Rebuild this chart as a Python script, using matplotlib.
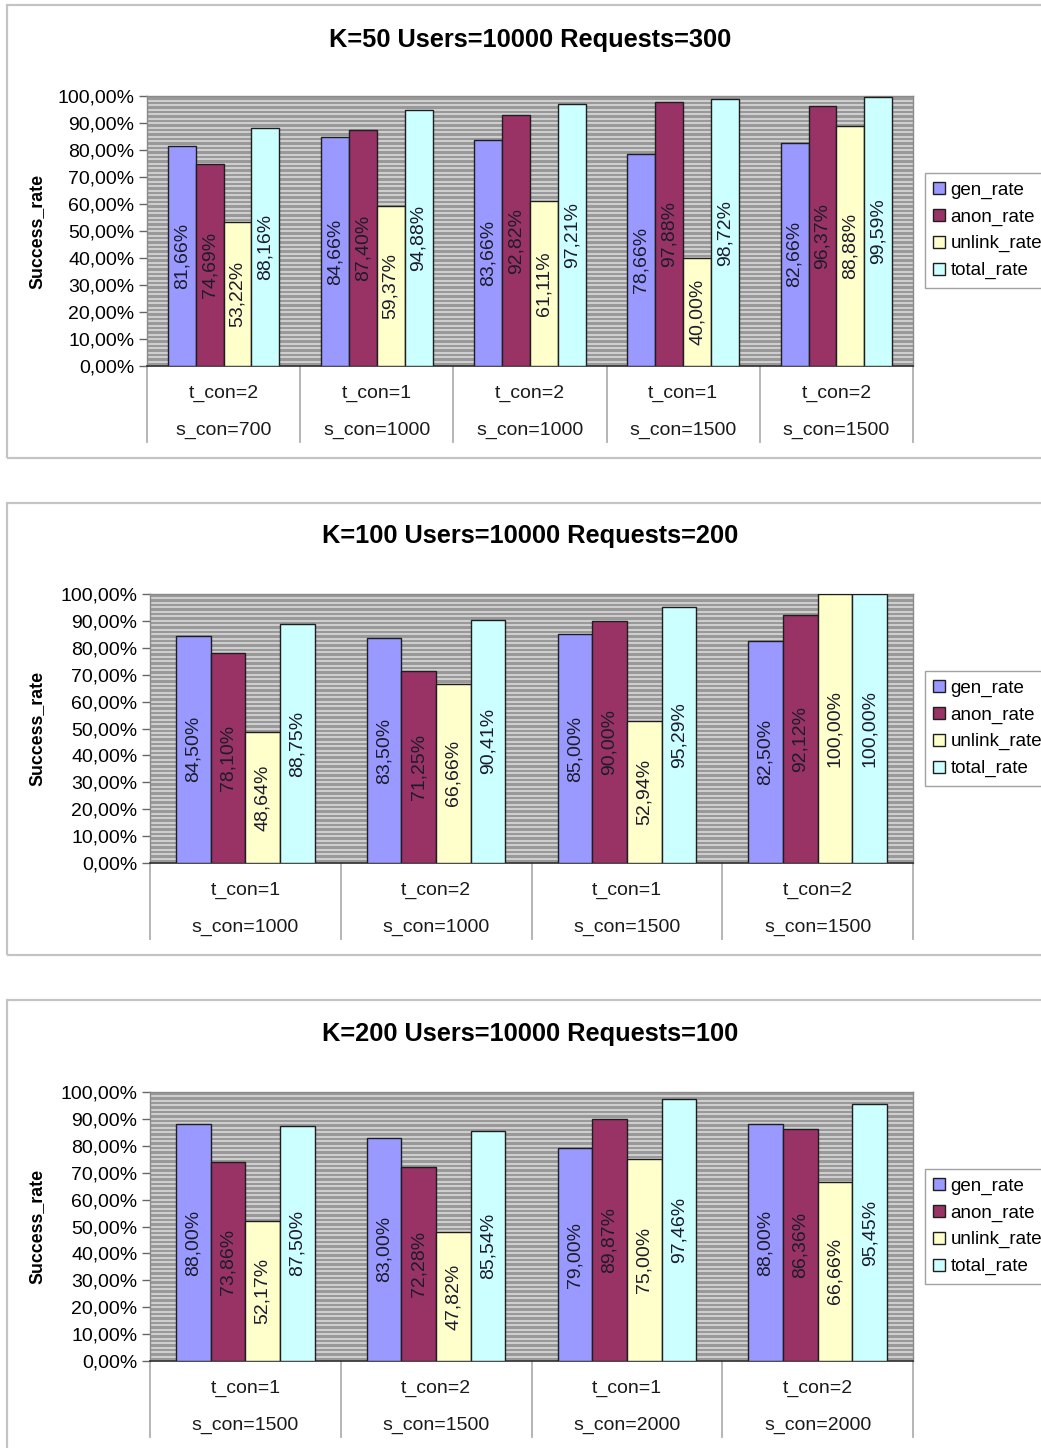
import numpy as np
import matplotlib
matplotlib.use('Agg')
import matplotlib.pyplot as plt
import matplotlib.transforms as mtrans
from matplotlib.patches import Rectangle
from matplotlib.ticker import FixedLocator, FuncFormatter

plt.rcParams['font.family'] = ['Liberation Sans', 'DejaVu Sans']

# Series shared by the three charts
SERIES = ['gen_rate', 'anon_rate', 'unlink_rate', 'total_rate']
COLORS = ['#9999ff', '#993366', '#ffffcc', '#ccffff']

# K=50, Users=10000, Requests=300
k50_title = 'K=50 Users=10000 Requests=300'
k50_tcon = ['t_con=2', 't_con=1', 't_con=2', 't_con=1', 't_con=2']
k50_scon = ['s_con=700', 's_con=1000', 's_con=1000', 's_con=1500', 's_con=1500']
k50_gen = [81.66, 84.66, 83.66, 78.66, 82.66]
k50_anon = [74.69, 87.40, 92.82, 97.88, 96.37]
k50_unlink = [53.22, 59.37, 61.11, 40.00, 88.88]
k50_total = [88.16, 94.88, 97.21, 98.72, 99.59]

# K=100, Users=10000, Requests=200
k100_title = 'K=100 Users=10000 Requests=200'
k100_tcon = ['t_con=1', 't_con=2', 't_con=1', 't_con=2']
k100_scon = ['s_con=1000', 's_con=1000', 's_con=1500', 's_con=1500']
k100_gen = [84.50, 83.50, 85.00, 82.50]
k100_anon = [78.10, 71.25, 90.00, 92.12]
k100_unlink = [48.64, 66.66, 52.94, 100.00]
k100_total = [88.75, 90.41, 95.29, 100.00]

# K=200, Users=10000, Requests=100
k200_title = 'K=200 Users=10000 Requests=100'
k200_tcon = ['t_con=1', 't_con=2', 't_con=1', 't_con=2']
k200_scon = ['s_con=1500', 's_con=1500', 's_con=2000', 's_con=2000']
k200_gen = [88.00, 83.00, 79.00, 88.00]
k200_anon = [73.86, 72.28, 89.87, 86.36]
k200_unlink = [52.17, 47.82, 75.00, 66.66]
k200_total = [87.50, 85.54, 97.46, 95.45]

W, H = 1041, 1448
fig = plt.figure(figsize=(W / 100, H / 100), dpi=100)


def pct(v):
    return f'{v:.2f}%'.replace('.', ',')


def panel(box, plot, title_y, legend_top, title, tcon, scon, values):
    bx0, by0, bx1, by1 = box
    fig.patches.append(Rectangle((bx0 / W, 1 - by1 / H), (bx1 - bx0) / W, (by1 - by0) / H,
                                 transform=fig.transFigure, fill=False,
                                 edgecolor='#c4c4c4', lw=1.6))
    fig.text(530 / W, 1 - title_y / H, title, ha='center', va='center',
             fontsize=18.3, fontweight='bold')

    x0, y0, x1, y1 = plot
    pw, ph = x1 - x0, y1 - y0
    ax = fig.add_axes([x0 / W, 1 - y1 / H, pw / W, ph / H])

    n = len(tcon)
    xc = np.arange(n)
    w = 1 / 5.5
    for i, (name, col, vals) in enumerate(zip(SERIES, COLORS, values)):
        vals = np.asarray(vals)
        xs = xc + (i - 1.5) * w
        ax.bar(xs, vals / 100, w, color=col, edgecolor='#1e1e1e', lw=1.0,
               label=name, zorder=3)
        for xi, v in zip(xs, vals):
            ax.text(xi, v / 200, pct(v), rotation=90, ha='center', va='center',
                    fontsize=14, color='#1c1c2c', zorder=4)

    ax.set_xlim(-0.5, n - 0.5)
    ax.set_ylim(0, 1)
    ax.set_facecolor('#999999')
    ax.set_axisbelow(True)

    # fine horizontal stripes on the plot area
    ax.yaxis.set_major_locator(FixedLocator(np.arange(0, 1.0001, 0.1)))
    ax.yaxis.set_minor_locator(FixedLocator(np.linspace(0, 1, 61)))
    ax.grid(which='both', axis='y', color='#d4d4d4', lw=1.3)
    ax.yaxis.set_major_formatter(FuncFormatter(lambda v, _: pct(v * 100)))
    ax.tick_params(axis='y', which='major', direction='out', length=6, width=1,
                   color='#666666', labelsize=14, pad=3)
    ax.tick_params(axis='y', which='minor', length=0)
    ax.set_xticks([])

    for side in ('left', 'top', 'right'):
        ax.spines[side].set_color('#8a8a8a')
        ax.spines[side].set_linewidth(1.0)
    ax.spines['bottom'].set_color('#2a2a2a')
    ax.spines['bottom'].set_linewidth(1.2)

    # two-level category axis
    tr = mtrans.blended_transform_factory(ax.transData, ax.transAxes)
    for i in range(n):
        ax.text(xc[i], -27 / ph, tcon[i], transform=tr, ha='center', va='center',
                fontsize=14, color='#1a1a1a')
        ax.text(xc[i], -64 / ph, scon[i], transform=tr, ha='center', va='center',
                fontsize=14, color='#1a1a1a')
    for b in np.arange(n + 1) - 0.5:
        ax.plot([b, b], [0, -76 / ph], transform=tr, clip_on=False,
                color='#b0b0b0', lw=1.3)

    fig.text(37 / W, 1 - (y0 + y1) / 2 / H, 'Success_rate', rotation=90,
             ha='center', va='center', fontsize=12.8, fontweight='bold')

    leg = ax.legend(loc='upper left', bbox_to_anchor=(925 / W, 1 - legend_top / H),
                    bbox_transform=fig.transFigure, frameon=True, fancybox=False,
                    edgecolor='#8a8a8a', fontsize=13.5, handlelength=0.6,
                    handleheight=0.6, handletextpad=0.3, labelspacing=0.52,
                    borderpad=0.45, borderaxespad=0)
    leg.get_frame().set_linewidth(1.0)


panel((7, 5, 1046, 458), (147, 96, 913, 366), 40, 173, k50_title,
      k50_tcon, k50_scon, [k50_gen, k50_anon, k50_unlink, k50_total])
panel((7, 503, 1046, 955), (150, 594, 913, 863), 536, 671, k100_title,
      k100_tcon, k100_scon, [k100_gen, k100_anon, k100_unlink, k100_total])
panel((7, 1000, 1046, 1452), (150, 1092, 913, 1361), 1034, 1169, k200_title,
      k200_tcon, k200_scon, [k200_gen, k200_anon, k200_unlink, k200_total])

fig.savefig('out.png', dpi=100, facecolor='white')
